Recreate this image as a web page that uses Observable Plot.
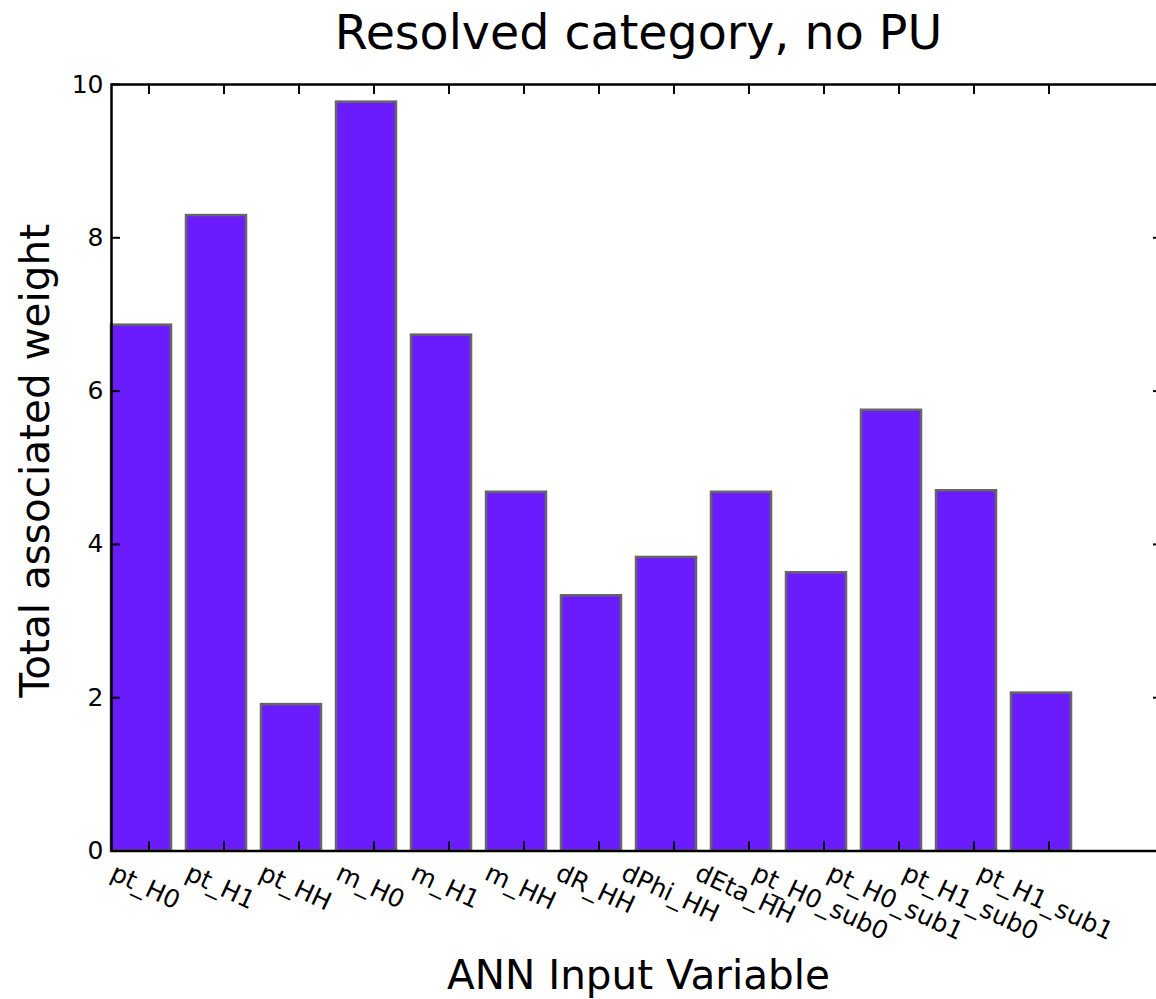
<!DOCTYPE html>
<html><head><meta charset="utf-8">
<script src="https://cdn.jsdelivr.net/npm/d3@7"></script>
<script src="https://cdn.jsdelivr.net/npm/@observablehq/plot@0.6"></script>
<style>html,body{margin:0;padding:0;background:#fff;overflow:hidden}</style>
</head><body><div id="chart"></div>
<script>
const categories = ["pt_H0","pt_H1","pt_HH","m_H0","m_H1","m_HH","dR_HH","dPhi_HH","dEta_HH","pt_H0_sub0","pt_H0_sub1","pt_H1_sub0","pt_H1_sub1"];
const weights = [6.86, 8.29, 1.91, 9.77, 6.73, 4.68, 3.33, 3.83, 4.68, 3.63, 5.75, 4.70, 2.06];
const yTicks = [0, 2, 4, 6, 8, 10];
const title = "Resolved category, no PU";
const xLabel = "ANN Input Variable";
const yLabel = "Total associated weight";

const data = categories.map((name, i) => ({name, i, value: weights[i]}));
const barWidth = 0.8;
const tickCenters = data.map(d => d.i + 0.5);
const labelAngle = 25;

const plot = Plot.plot({
  width: 1156, height: 999,
  marginTop: 84, marginBottom: 148.5, marginLeft: 111, marginRight: -5,
  style: {fontFamily: "'DejaVu Sans', sans-serif", fontSize: "25px", background: "#fff", color: "#000", overflow: "visible"},
  x: {type: "linear", domain: [0, 14]},
  y: {domain: [0, 10]},
  marks: [
    Plot.rect(data, {x1: d => d.i, x2: d => d.i + barWidth, y1: () => 0, y2: "value", fill: "#6a1cff", stroke: "#666", strokeWidth: 2.5, inset: 0}),
    Plot.frame({stroke: "#000", strokeWidth: 2.5}),
    Plot.axisY({ticks: yTicks, tickSize: -9, tickPadding: 17, strokeWidth: 2, tickFormat: d => String(d), label: null, fontSize: 25}),
    Plot.axisY({anchor: "right", ticks: yTicks, tickSize: -9, tickFormat: () => "", label: null, strokeWidth: 2}),
    Plot.axisX({ticks: tickCenters, tickSize: -9, tickRotate: labelAngle, tickFormat: d => categories[Math.floor(d)], label: null, strokeWidth: 2, fontSize: 25}),
    Plot.axisX({anchor: "top", ticks: tickCenters, tickSize: -9, tickFormat: () => "", label: null, strokeWidth: 2}),
    Plot.text([title], {text: d => d, frameAnchor: "top", dy: -36, dx: 2, fontSize: 47.5, lineAnchor: "bottom", textAnchor: "middle"}),
    Plot.text([xLabel], {text: d => d, frameAnchor: "bottom", dy: 137.5, dx: 2, fontSize: 40.5, lineAnchor: "bottom", textAnchor: "middle"}),
    Plot.text([yLabel], {text: d => d, frameAnchor: "left", dx: -63, dy: -7, rotate: -90, fontSize: 40.5, lineAnchor: "bottom", textAnchor: "middle"})
  ]
});
document.getElementById("chart").appendChild(plot);

// center each rotated tick label on its tick, aligning the tops of their boxes
const svgRect = plot.getBoundingClientRect();
const targetTop = 858;
plot.querySelectorAll('g[aria-label="x-axis tick label"] text').forEach(t => {
  const tr = t.getAttribute("transform") || "";
  const m = /translate\(([-\d.e]+)[ ,]+([-\d.e]+)\)/.exec(tr);
  if (!m) return;
  const x = +m[1];
  t.setAttribute("text-anchor", "middle");
  t.setAttribute("dy", "0.35em");
  t.setAttribute("transform", `translate(${x},900) rotate(${labelAngle})`);
  const r = t.getBoundingClientRect();
  const top = r.top - svgRect.top;
  t.setAttribute("transform", `translate(${x},${900 + targetTop - top}) rotate(${labelAngle})`);
});
</script>
</body></html>
